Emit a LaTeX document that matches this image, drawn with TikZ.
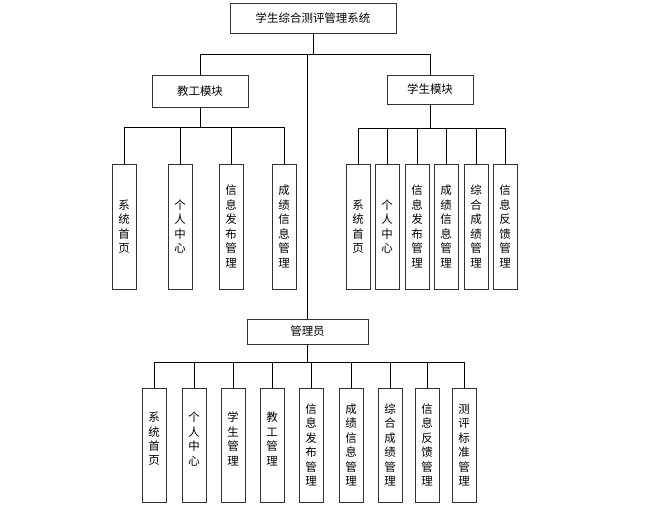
\documentclass[tikz,border=0pt]{standalone}
\usepackage{fontspec}
\newfontfamily\cjk{Noto Sans CJK SC}
\tikzset{
  box/.style={draw=black!80, line width=0.95bp, fill=white, inner sep=0pt, font=\cjk\fontsize{11.5}{14.5}\selectfont, align=center},
  hbox/.style={box},
  vbox/.style={box, minimum width=24bp, text width=12bp},
  vlab/.style={inner sep=0pt, font=\cjk\fontsize{11.5}{14.5}\selectfont, align=center, text width=12bp, yshift=6bp},
  conn/.style={draw=black, line width=0.8bp}
}
\begin{document}
\begin{tikzpicture}[x=1bp,y=-1bp]
\useasboundingbox (0,0) rectangle (648,508);
% top level
\node[hbox, minimum width=166bp, minimum height=30bp] (top) at (313,18) {学生综合测评管理系统};
\node[hbox, minimum width=96bp, minimum height=32bp] (jg) at (200,91) {教工模块};
\node[hbox, minimum width=86bp, minimum height=29bp] (xs) at (430,89.5) {学生模块};
\node[hbox, minimum width=121bp, minimum height=25bp] (gl) at (307.5,331.5) {管理员};
\coordinate (b0) at (0,54);
\coordinate (b1) at (0,127);
\coordinate (b2) at (0,128);
\coordinate (b3) at (0,362);
\draw[conn] (top.south) -- (top.south |- b0);
\draw[conn] (jg.north) -- (jg.north |- b0) -- (xs.north |- b0) -- (xs.north);
\draw[conn] (gl.north) -- (gl.north |- b0);
% teacher children
\foreach \n/\x/\t in {t1/124/{系\\统\\首\\页}, t2/180/{个\\人\\中\\心}, t3/231/{信\\息\\发\\布\\管\\理}, t4/284/{成\\绩\\信\\息\\管\\理}}{
  \node[vbox, minimum height=125bp] (\n) at (\x,226.5) {\t};
}
\draw[conn] (jg.south) -- (jg.south |- b1);
\draw[conn] (t1.north) -- (t1.north |- b1) -- (t4.north |- b1) -- (t4.north);
\foreach \n in {t2,t3}{ \draw[conn] (\n.north) -- (\n.north |- b1); }
% student children
\foreach \n/\x/\t in {s1/358/{系\\统\\首\\页}, s2/387/{个\\人\\中\\心}, s3/417/{信\\息\\发\\布\\管\\理}, s4/446/{成\\绩\\信\\息\\管\\理}, s5/476/{综\\合\\成\\绩\\管\\理}, s6/505/{信\\息\\反\\馈\\管\\理}}{
  \node[vbox, minimum height=125bp] (\n) at (\x,226.5) {\t};
}
\draw[conn] (xs.south) -- (xs.south |- b2);
\draw[conn] (s1.north) -- (s1.north |- b2) -- (s6.north |- b2) -- (s6.north);
\foreach \n in {s2,s3,s4,s5}{ \draw[conn] (\n.north) -- (\n.north |- b2); }
% admin children
\foreach \n/\x/\t in {a1/154/{系\\统\\首\\页}, a2/194/{个\\人\\中\\心}, a3/233/{学\\生\\管\\理}, a4/272/{教\\工\\管\\理}}{
  \node[vbox, minimum height=114bp] (\n) at (\x,445) {};
  \node[vlab] (\n t) at (\n.center) {\t};
}
\foreach \n/\x/\t in {a5/311/{信\\息\\发\\布\\管\\理}, a6/351/{成\\绩\\信\\息\\管\\理}, a7/390/{综\\合\\成\\绩\\管\\理}, a8/427/{信\\息\\反\\馈\\管\\理}, a9/464/{测\\评\\标\\准\\管\\理}}{
  \node[vbox, minimum height=114bp] (\n) at (\x,445) {\t};
}
\draw[conn] (gl.south) -- (gl.south |- b3);
\draw[conn] (a1.north) -- (a1.north |- b3) -- (a9.north |- b3) -- (a9.north);
\foreach \n in {a2,a3,a4,a5,a6,a7,a8}{ \draw[conn] (\n.north) -- (\n.north |- b3); }
\end{tikzpicture}
\end{document}
